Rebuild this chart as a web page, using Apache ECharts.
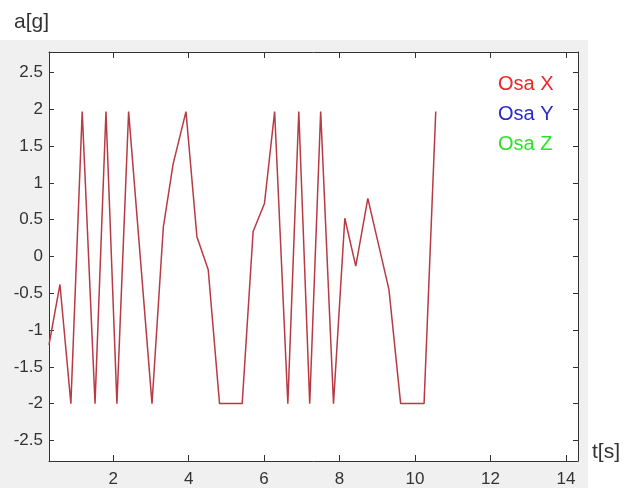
<!DOCTYPE html>
<html>
<head>
<meta charset="utf-8">
<script src="https://cdn.jsdelivr.net/npm/echarts@6/dist/echarts.min.js"></script>
<style>html,body{margin:0;padding:0;background:#fff}#c{width:624px;height:488px}</style>
</head>
<body>
<div id="c"></div>
<script>
// time [s]
var tData = [0.30, 0.59, 0.88, 1.18, 1.52, 1.81, 2.10, 2.41, 3.03, 3.33, 3.59, 3.93, 4.22, 4.52, 4.82, 5.42, 5.71, 6.01, 6.28, 6.63, 6.92, 7.21, 7.50, 7.84, 8.14, 8.43, 8.75, 9.31, 9.62, 10.24, 10.55];
// acceleration X [g]
var aX = [-1.2, -0.38, -2, 1.97, -2, 1.97, -2, 1.97, -2, 0.4, 1.26, 1.97, 0.27, -0.18, -2, -2, 0.34, 0.72, 1.97, -2, 1.97, -2, 1.97, -2, 0.52, -0.13, 0.79, -0.45, -2, -2, 1.97];
var xTicks = [2, 4, 6, 8, 10, 12, 14];
var yTicks = [-2.5, -2, -1.5, -1, -0.5, 0, 0.5, 1, 1.5, 2, 2.5];
var legendNames = ['Osa X', 'Osa Y', 'Osa Z'];
var legendColors = ['#f0242a', '#2a2acc', '#2ee02e'];

var seriesX = tData.map(function (t, i) { return [t, aX[i]]; });

var chart = echarts.init(document.getElementById('c'), null, {renderer: 'canvas'});
var axisCol = '#333';
var font = 'Liberation Sans, Arial, sans-serif';
function xAxisDef(pos, showLabel) {
  return {
    type: 'value', position: pos, min: 0.3, max: 14.32,
    axisLine: {show: true, onZero: false, lineStyle: {color: axisCol, width: 1}},
    axisTick: {show: true, inside: true, length: 6, customValues: xTicks, lineStyle: {color: axisCol}},
    axisLabel: {show: showLabel, customValues: xTicks, margin: 10, color: '#333', fontSize: 17, fontFamily: font},
    splitLine: {show: false}
  };
}
function yAxisDef(pos, showLabel) {
  return {
    type: 'value', position: pos, min: -2.78, max: 2.78,
    axisLine: {show: true, onZero: false, lineStyle: {color: axisCol, width: 1}},
    axisTick: {show: true, inside: true, length: 5, customValues: yTicks, lineStyle: {color: axisCol}},
    axisLabel: {show: showLabel, customValues: yTicks, margin: 6, color: '#333', fontSize: 17, fontFamily: font},
    splitLine: {show: false}
  };
}
chart.setOption({
  animation: false,
  backgroundColor: '#fff',
  graphic: [
    {type: 'rect', z: -10, shape: {x: 0, y: 40, width: 588, height: 448}, style: {fill: '#f0f0f0'}},
    {type: 'text', left: 14, top: 12, style: {text: 'a[g]', fontSize: 21, fontFamily: font, fill: '#333'}},
    {type: 'text', left: 592, top: 442, style: {text: 't[s]', fontSize: 21, fontFamily: font, fill: '#333'}}
  ],
  grid: {left: 49, top: 52, right: 46, bottom: 24, show: true, backgroundColor: '#fff', borderWidth: 0},
  legend: {
    orient: 'vertical', left: 488, top: 69, itemWidth: 0, itemHeight: 0, itemGap: 9, icon: 'rect',
    data: legendNames.map(function (n, i) { return {name: n, textStyle: {color: legendColors[i]}}; }),
    textStyle: {fontSize: 20, fontFamily: font, lineHeight: 21},
    selectedMode: false
  },
  xAxis: [xAxisDef('bottom', true), xAxisDef('top', false)],
  yAxis: [yAxisDef('left', true), yAxisDef('right', false)],
  series: [
    {name: legendNames[0], type: 'line', data: seriesX, symbol: 'none', color: legendColors[0],
     lineStyle: {color: '#b83a44', width: 1.5}},
    {name: legendNames[1], type: 'line', data: [], symbol: 'none', color: legendColors[1]},
    {name: legendNames[2], type: 'line', data: [], symbol: 'none', color: legendColors[2]}
  ]
});
</script>
</body>
</html>
